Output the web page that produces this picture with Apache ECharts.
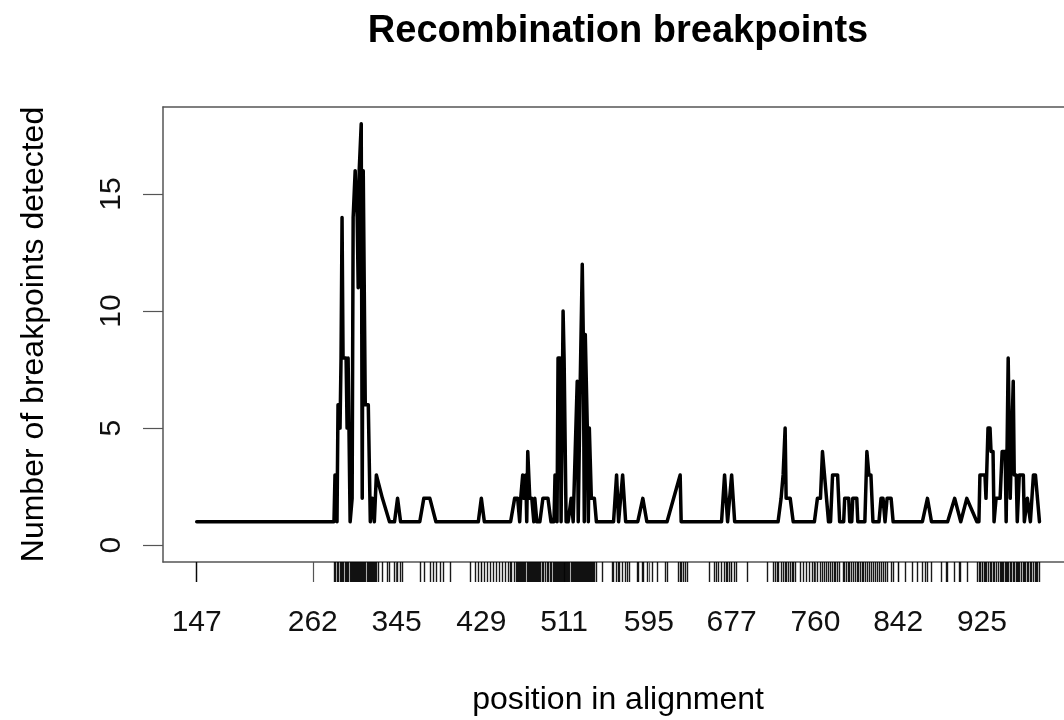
<!DOCTYPE html>
<html>
<head>
<meta charset="utf-8">
<script src="https://cdn.jsdelivr.net/npm/echarts@6/dist/echarts.min.js"></script>
<style>
html,body{margin:0;padding:0;background:#fff;}
#chart{width:1064px;height:720px;}
</style>
</head>
<body>
<div id="chart"></div>
<script>
// Breakpoint positions (alignment position) and number of breakpoints detected at each
const positions = [147,283,284,286,287,289,290,291,292,295,296,297,299,301,302,304,306,307,308,310,311,312,313,314,317,319,321,323,325,331,338,343,346,349,368,372,378,384,426,429,432,458,462,465,467,468,470,471,473,474,475,477,479,481,482,484,487,490,495,498,501,502,504,505,507,508,510,511,513,515,518,520,522,524,525,527,529,530,531,532,534,535,536,538,541,543,560,563,565,566,569,572,584,589,593,613,626,627,667,670,673,677,680,723,726,728,730,731,735,738,759,762,765,767,769,771,773,775,777,782,784,788,789,793,794,796,797,801,802,809,811,813,815,817,823,825,827,829,831,835,837,866,871,875,891,898,904,910,920,922,923,928,929,931,933,934,936,937,939,943,945,948,949,951,953,956,957,959,960,962,966,967,970,973,976,978,982];
const counts    = [1,1,3,1,6,5,8,14,8,8,5,8,1,2,14,16,14,11,16,18,2,16,16,6,6,1,2,1,3,2,1,1,2,1,1,2,2,1,1,2,1,1,2,2,1,2,3,2,3,1,4,2,2,1,2,1,1,2,2,1,1,3,1,8,8,1,10,8,1,1,2,1,4,7,1,7,12,9,1,9,5,1,5,2,2,1,1,3,1,1,3,1,1,2,1,1,3,1,1,3,1,3,1,1,2,3,5,2,2,1,1,2,2,4,3,2,1,1,3,3,1,1,2,2,1,1,2,2,1,1,4,3,3,1,1,2,2,1,2,2,1,1,2,1,1,2,1,2,1,1,3,3,2,5,5,4,4,1,2,2,4,4,1,8,2,7,3,3,1,3,3,1,2,1,3,3,1];
// Further breakpoint positions shown only in the rug (single breakpoints along flat stretches)
const extraRugPositions = [294,300,303,305,309,316,318,320,322,324,327,336,351,381,388,391,398,418,423,435,438,441,444,447,450,453,456,459,464,466,469,472,476,478,480,483,485,486,489,492,494,497,500,503,506,509,512,514,516,519,521,523,526,528,533,537,539,540,549,559,574,576,583,588,598,603,611,624,629,631,633,655,660,662,664,672,675,682,692,712,718,720,722,733,737,740,745,748,751,754,757,779,780,791,799,804,806,807,819,821,842,849,856,861,869,885,890,903,925,927,941,944,946,950,954,961,964,968,971,974,979,980];
// Axis tick labels
const xTickLabels = [147,262,345,429,511,595,677,760,842,925];
const yTickLabels = [0,5,10,15];

const titleText = 'Recombination breakpoints';
const xTitle = 'position in alignment';
const yTitle = 'Number of breakpoints detected';

const FONT = "'Liberation Sans', Arial, Helvetica, sans-serif";
const lineData = positions.map((p, i) => [p, counts[i]]);
const rugPositions = positions.concat(extraRugPositions).sort((a, b) => a - b);

const chart = echarts.init(document.getElementById('chart'), null, {renderer: 'canvas'});
const X_MIN = 113.6, X_MAX = 1006.3;
const axisGray = '#555';
chart.setOption({
  animation: false,
  backgroundColor: '#ffffff',
  grid: {left: 163, right: 0, top: 107, bottom: 158, containLabel: false},
  graphic: [
    {type: 'text', x: 618, y: 32, style: {text: titleText, font: 'bold 38px ' + FONT, fill: '#000', textAlign: 'center', textVerticalAlign: 'middle'}},
    {type: 'text', x: 618, y: 700, style: {text: xTitle, font: '32px ' + FONT, fill: '#000', textAlign: 'center', textVerticalAlign: 'middle'}},
    {type: 'text', x: 34, y: 334.5, rotation: Math.PI / 2, style: {text: yTitle, font: '32px ' + FONT, fill: '#000', textAlign: 'center', textVerticalAlign: 'middle'}}
  ],
  xAxis: [
    {
      type: 'value', position: 'bottom', min: X_MIN, max: X_MAX,
      axisLine: {show: true, onZero: false, lineStyle: {color: axisGray, width: 1.5}},
      axisTick: {show: true, inside: false, length: 20, customValues: xTickLabels, lineStyle: {color: axisGray, width: 1.2}},
      axisLabel: {show: true, customValues: xTickLabels, margin: 46, fontSize: 30, color: '#111', fontFamily: FONT, formatter: v => String(v)},
      splitLine: {show: false}
    },
    {
      type: 'value', position: 'bottom', min: X_MIN, max: X_MAX,
      axisLine: {show: false, onZero: false},
      axisTick: {show: true, inside: false, length: 20, customValues: rugPositions, lineStyle: {color: 'rgba(0,0,0,0.9)', width: 1.4}},
      axisLabel: {show: false},
      splitLine: {show: false}
    },
    {
      type: 'value', position: 'top', min: X_MIN, max: X_MAX,
      axisLine: {show: true, onZero: false, lineStyle: {color: axisGray, width: 1.5}},
      axisTick: {show: false}, axisLabel: {show: false}, splitLine: {show: false}
    }
  ],
  yAxis: {
    type: 'value', min: -0.72, max: 18.72,
    axisLine: {show: true, onZero: false, lineStyle: {color: axisGray, width: 1.5}},
    axisTick: {show: true, inside: false, length: 20, customValues: yTickLabels, lineStyle: {color: axisGray, width: 1.2}},
    axisLabel: {show: true, customValues: yTickLabels, rotate: 90, margin: 36, fontSize: 30, color: '#111', fontFamily: FONT, formatter: v => String(v)},
    splitLine: {show: false}
  },
  series: [{
    type: 'line', xAxisIndex: 0, yAxisIndex: 0,
    data: lineData, symbol: 'none', showSymbol: false,
    lineStyle: {color: '#000', width: 3.5, join: 'round', cap: 'round'},
    z: 5
  }]
});
</script>
</body>
</html>
